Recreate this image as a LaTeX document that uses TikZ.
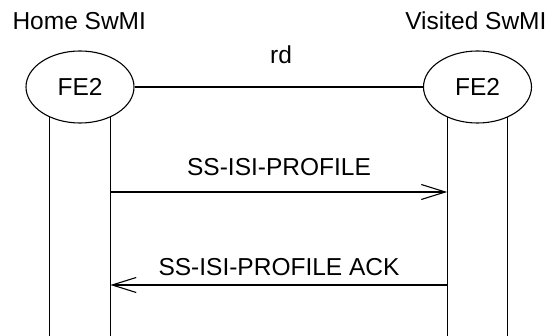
\documentclass[tikz,border=0pt]{standalone}
\usepackage{fontspec}
\setmainfont{Liberation Sans}
\usetikzlibrary{arrows.meta,shapes.geometric}
\begin{document}
\begin{tikzpicture}[x=1pt,y=1pt,
  line width=1.1pt,
  txt/.style={font=\fontsize{24.5}{28}\selectfont, inner sep=0pt},
  fe/.style={draw, ellipse, minimum width=108pt, minimum height=72pt,
    inner sep=0pt, font=\fontsize{24.5}{28}\selectfont},
  msg/.style={-{Straight Barb[length=24pt,width=15pt,line width=1.1pt]}}]
\useasboundingbox (0,0) rectangle (557,336);
\fill[white] (0,0) rectangle (557,336);

% domain titles
\node[txt, anchor=base west] (home) at (12,306) {Home SwMI};
\node[txt, anchor=base east] (visited) at (547,306) {Visited SwMI};

% functional entities and the rd reference point
\node[fe] (hfe) at (80,249) {FE2};
\node[fe] (vfe) at (477.5,249) {FE2};
\draw (hfe) -- (vfe);
\node[txt, anchor=base] (rd) at (281,272) {rd};

% lifelines
\coordinate (floor) at (0,0);
\draw (hfe.225) -- (hfe.225 |- floor);
\draw (hfe.315) -- (hfe.315 |- floor);
\draw (vfe.225) -- (vfe.225 |- floor);
\draw (vfe.315) -- (vfe.315 |- floor);

% messages
\coordinate (y1) at (0,144);
\coordinate (y2) at (0,51);
\draw[msg] (hfe.315 |- y1) -- (vfe.225 |- y1);
\node[txt, anchor=base] (m1) at (279,160) {SS-ISI-PROFILE};
\draw[msg] (vfe.225 |- y2) -- (hfe.315 |- y2);
\node[txt, anchor=base] (m2) at (279,60) {SS-ISI-PROFILE ACK};
\end{tikzpicture}
\end{document}
